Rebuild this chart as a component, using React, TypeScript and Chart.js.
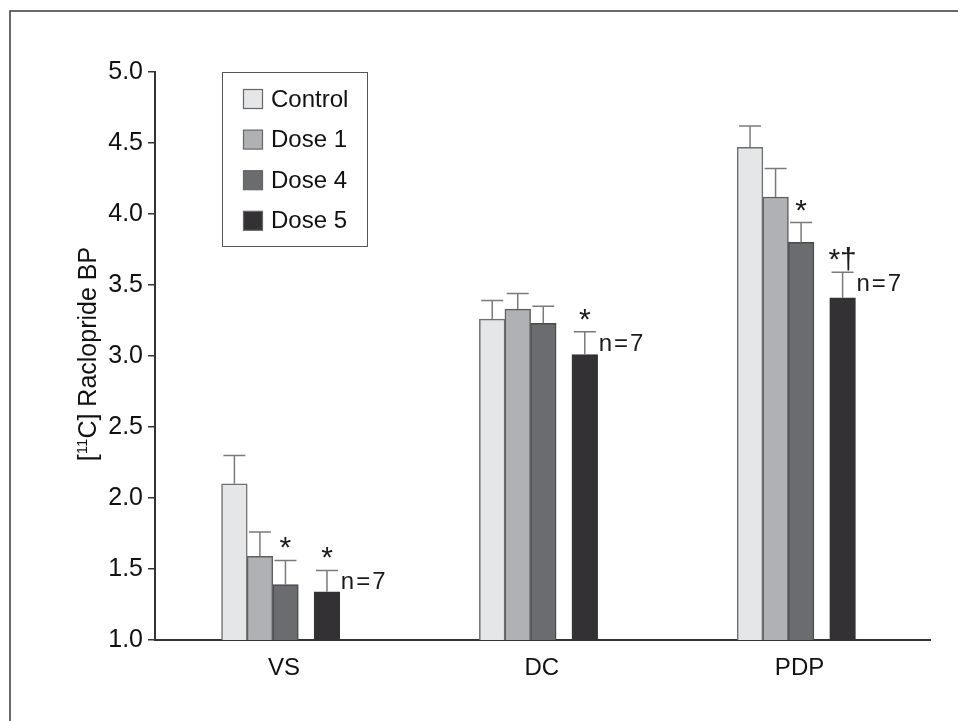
import React, { useEffect, useRef } from "react";
import { Chart, registerables } from "chart.js";
Chart.register(...registerables);

// ---- data ----
const categories = ["VS", "DC", "PDP"];
const seriesNames = ["Control", "Dose 1", "Dose 4", "Dose 5"];
const control = [2.1, 3.26, 4.47];
const dose1 = [1.59, 3.33, 4.12];
const dose4 = [1.39, 3.23, 3.8];
const dose5 = [1.34, 3.01, 3.41];
const controlErr = [0.2, 0.13, 0.15];
const dose1Err = [0.17, 0.11, 0.2];
const dose4Err = [0.17, 0.12, 0.14];
const dose5Err = [0.15, 0.16, 0.18];
const controlMarks = ["", "", ""];
const dose1Marks = ["", "", ""];
const dose4Marks = ["*", "", "*"];
const dose5Marks = ["*", "*", "*\u2020"];
const dose5Notes = ["n\u200A=\u200A7", "n\u200A=\u200A7", "n\u200A=\u200A7"];
const noNotes = ["", "", ""];
const yTicks = [1.0, 1.5, 2.0, 2.5, 3.0, 3.5, 4.0, 4.5, 5.0];
const yTitleParts = ["[", "11", "C] Raclopride BP"];

// ---- styles / layout ----
const FONT = "'Liberation Sans', Arial, Helvetica, sans-serif";
const fills = ["#e5e6e8", "#b0b1b4", "#6b6c70", "#333134"];
const borders = ["#6e6e6e", "#5e5e5e", "#4a4a4a", "#333134"];
const slotOffsets = [-0.192, -0.093, 0.006, 0.167];

const values = [control, dose1, dose4, dose5];
const errors = [controlErr, dose1Err, dose4Err, dose5Err];
const marks = [controlMarks, dose1Marks, dose4Marks, dose5Marks];
const notes = [noNotes, noNotes, noNotes, dose5Notes];

const decorPlugin = {
  id: "decor",
  beforeDraw(chart: any) {
    const ctx = chart.ctx;
    ctx.save();
    ctx.fillStyle = "#ffffff";
    ctx.fillRect(0, 0, chart.width, chart.height);
    // figure frame
    ctx.strokeStyle = "#3a3a3a";
    ctx.lineWidth = 1.5;
    ctx.beginPath();
    ctx.moveTo(10, chart.height + 2);
    ctx.lineTo(10, 11);
    ctx.lineTo(chart.width + 2, 11);
    ctx.stroke();
    ctx.restore();
  },
  afterDatasetsDraw(chart: any) {
    const ctx = chart.ctx;
    const yScale = chart.scales.y;
    ctx.save();
    chart.data.datasets.forEach((ds: any, di: number) => {
      const meta = chart.getDatasetMeta(di);
      meta.data.forEach((bar: any, i: number) => {
        const v = values[di][i];
        const top = yScale.getPixelForValue(v + errors[di][i]);
        ctx.strokeStyle = "#7a7a7a";
        ctx.lineWidth = 1.5;
        ctx.beginPath();
        ctx.moveTo(bar.x, bar.y);
        ctx.lineTo(bar.x, top);
        ctx.moveTo(bar.x - 11, top);
        ctx.lineTo(bar.x + 11, top);
        ctx.stroke();
        const m = marks[di][i];
        if (m) {
          ctx.fillStyle = "#1a1a1a";
          ctx.font = `30px ${FONT}`;
          ctx.textAlign = "center";
          ctx.textBaseline = "alphabetic";
          ctx.fillText(m, bar.x, top - 3);
        }
        const n = notes[di][i];
        if (n) {
          ctx.fillStyle = "#1a1a1a";
          ctx.font = `24px ${FONT}`;
          ctx.textAlign = "left";
          ctx.textBaseline = "alphabetic";
          ctx.fillText(n, bar.x + bar.width / 2 + 1, top + 19);
        }
      });
    });
    ctx.restore();
  },
  afterDraw(chart: any) {
    const ctx = chart.ctx;
    const area = chart.chartArea;
    ctx.save();
    // legend box
    const bx = area.left + 67;
    const by = area.top;
    ctx.strokeStyle = "#555";
    ctx.lineWidth = 1;
    ctx.strokeRect(Math.round(bx) + 0.5, Math.round(by) + 0.5, 145, 174);
    chart.data.datasets.forEach((ds: any, i: number) => {
      const cy = by + 27 + i * 40.6;
      ctx.fillStyle = ds.backgroundColor;
      ctx.fillRect(bx + 21.5, cy - 9.5, 19, 19);
      ctx.strokeStyle = "#666";
      ctx.lineWidth = 1.2;
      ctx.strokeRect(bx + 21.5, cy - 9.5, 19, 19);
      ctx.fillStyle = "#111";
      ctx.font = `24px ${FONT}`;
      ctx.textAlign = "left";
      ctx.textBaseline = "middle";
      ctx.fillText(ds.label, bx + 49, cy + 1);
    });
    // y axis title with superscript
    const cx = 86.5;
    const cy = (area.top + area.bottom) / 2 - 2;
    ctx.translate(cx, cy);
    ctx.rotate(-Math.PI / 2);
    const big = `25px ${FONT}`;
    const small = `15px ${FONT}`;
    ctx.font = big;
    const w0 = ctx.measureText(yTitleParts[0]).width;
    const w2 = ctx.measureText(yTitleParts[2]).width;
    ctx.font = small;
    const w1 = ctx.measureText(yTitleParts[1]).width;
    const total = w0 + w1 + w2;
    let x = -total / 2;
    const base = 9;
    ctx.fillStyle = "#111";
    ctx.textAlign = "left";
    ctx.textBaseline = "alphabetic";
    ctx.font = big;
    ctx.fillText(yTitleParts[0], x, base);
    x += w0;
    ctx.font = small;
    ctx.fillText(yTitleParts[1], x, base - 9);
    x += w1;
    ctx.font = big;
    ctx.fillText(yTitleParts[2], x, base);
    ctx.restore();
  },
};

export default function App() {
  const ref = useRef<HTMLCanvasElement | null>(null);
  useEffect(() => {
    if (!ref.current) return;
    const datasets = seriesNames.map((name, di) => ({
      label: name,
      data: values[di].map((v, i) => ({ x: i + slotOffsets[di], y: v })),
      backgroundColor: fills[di],
      borderColor: borders[di],
      borderWidth: 1.5,
      borderSkipped: "start",
      barThickness: 25.7,
      grouped: false,
    }));
    const chart = new Chart(ref.current, {
      type: "bar",
      data: { datasets } as any,
      plugins: [decorPlugin],
      options: {
        animation: false,
        responsive: false,
        maintainAspectRatio: false,
        devicePixelRatio: 1,
        layout: { padding: { left: 0, right: 28, top: 72, bottom: 0 } },
        plugins: { legend: { display: false }, tooltip: { enabled: false } },
        scales: {
          x: {
            type: "linear",
            min: -0.5,
            max: 2.506,
            offset: false,
            afterBuildTicks: (s: any) => {
              s.ticks = categories.map((_, i) => ({ value: i }));
            },
            afterFit: (s: any) => {
              s.height = 81;
            },
            grid: { display: false, drawTicks: false },
            border: { display: true, color: "#333", width: 2 },
            ticks: {
              autoSkip: false,
              maxRotation: 0,
              padding: 14,
              color: "#111",
              font: { family: FONT, size: 24 },
              callback: (v: any) => categories[Math.round(v)] ?? "",
            },
          },
          y: {
            min: 1,
            max: 5,
            afterBuildTicks: (s: any) => {
              s.ticks = yTicks.map((v) => ({ value: v }));
            },
            afterFit: (s: any) => {
              s.width = 155;
            },
            grid: {
              drawOnChartArea: false,
              drawTicks: true,
              tickLength: 7,
              color: "#333",
              lineWidth: 1.5,
            },
            border: { display: true, color: "#333", width: 2 },
            ticks: {
              padding: 5,
              color: "#111",
              font: { family: FONT, size: 25 },
              callback: (v: any) => Number(v).toFixed(1),
            },
          },
        },
      } as any,
    });
    return () => chart.destroy();
  }, []);
  return (
    <div style={{ position: "fixed", left: 0, top: 0, width: 958, height: 721, background: "#fff" }}>
      <canvas ref={ref} width={958} height={721} style={{ display: "block", width: 958, height: 721 }} />
    </div>
  );
}
